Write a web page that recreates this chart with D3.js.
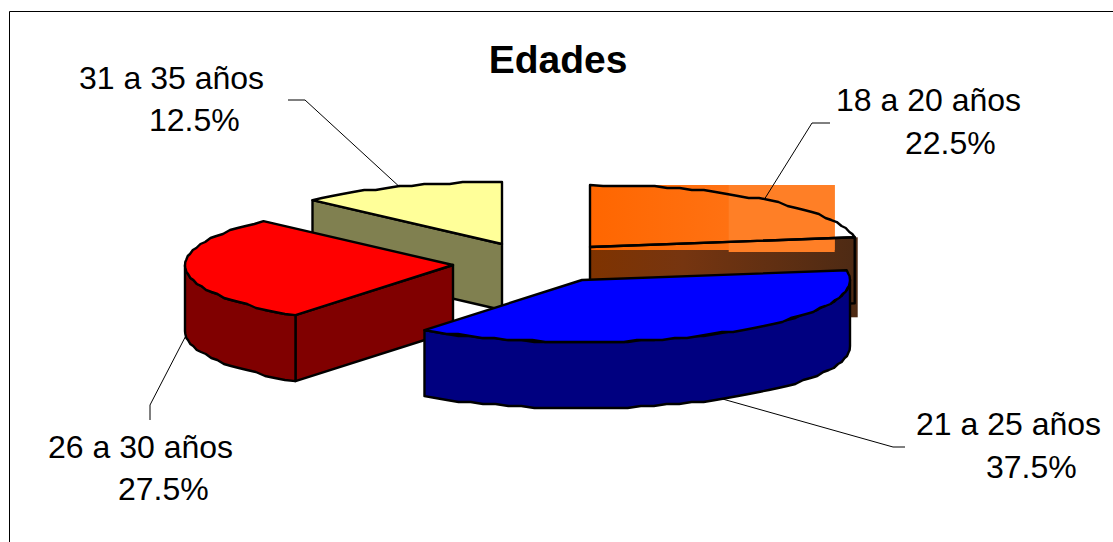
<!DOCTYPE html>
<html><head><meta charset="utf-8">
<script src="https://cdn.jsdelivr.net/npm/d3@7/dist/d3.min.js"></script>
<style>html,body{margin:0;padding:0;background:#fff}svg{display:block}text{font-family:"Liberation Sans",Arial,sans-serif;fill:#000}</style>
</head><body><svg id="c" width="1113" height="542"></svg>
<script>
// ---- data ----
const title = "Edades";
const categories = ["18 a 20 años", "21 a 25 años", "26 a 30 años", "31 a 35 años"];
const shares = [22.5, 37.5, 27.5, 12.5];
// ---- styles ----
const topColors = ["none", "#0000FF", "#FF0000", "#FFFF99"];
const wallColors = ["none", "#000080", "#800000", "#808050"];
// ---- layout ----
const W = 1113, H = 542, rx = 268, ry = 62, depth = 66;
const centers = [[590, 247], [582, 280], [453, 265], [502, 244]];
const drawOrder = [3, 0, 2, 1];
const labelPos = [
  {x1: 836, y1: 111, x2: 905, y2: 154},
  {x1: 916, y1: 435, x2: 986, y2: 478},
  {x1: 48, y1: 458, x2: 118, y2: 500},
  {x1: 79, y1: 89, x2: 149, y2: 131}
];
const leaders = [
  {d: 0, bends: [[812, 123], [830, 123]]},
  {d: depth, bends: [[893, 447], [905, 447]]},
  {d: depth, bends: [[150, 405], [150, 420]]},
  {d: 0, bends: [[305, 100], [288, 100]]}
];

const svg = d3.select("#c");
const defs = svg.append("defs");
function grad(id, stops) {
  const g = defs.append("linearGradient").attr("id", id);
  stops.forEach(s => g.append("stop").attr("offset", s[0]).attr("stop-color", s[1]));
}
grad("orangeGrad", [[0, "#FF6600"], [1, "#FF7A20"]]);
grad("brownGrad", [[0, "#7F3300"], [0.35, "#763510"], [1, "#4D2A14"]]);

const slices = d3.pie().sort(null).value(d => d).startAngle(0).endAngle(2 * Math.PI)(shares);
const line = d3.line();
const snap = y => Math.round(y / 2) * 2;
function pt(i, a, dz) {
  const c = centers[i];
  return [c[0] + rx * Math.sin(a), c[1] - ry * Math.cos(a) + (dz || 0)];
}
function arcPts(i, a0, a1, dz) {
  const n = Math.max(2, Math.ceil(Math.abs(a1 - a0) / 0.05));
  return d3.range(n + 1).map(k => {
    const p = pt(i, a0 + (a1 - a0) * k / n, dz);
    return (k === 0 || k === n) ? p : [p[0], snap(p[1])];
  });
}
svg.append("path").attr("d", line([[9.5, H], [9.5, 11.5], [W, 11.5]]))
  .attr("fill", "none").attr("stroke", "#000").attr("stroke-width", 1);

const g = svg.append("g").attr("stroke", "#000").attr("stroke-width", 2.4).attr("stroke-linejoin", "round");

// Orange slice gradient blocks, sized from the slice extent
function orangeBlocks() {
  const c = centers[0], e = pt(0, slices[0].endAngle);
  const backY = c[1] - ry, rightX = e[0];
  g.append("rect").attr("x", c[0] - 1).attr("y", e[1]).attr("width", rightX + 4 - c[0]).attr("height", depth + 14)
    .attr("fill", "url(#brownGrad)").attr("stroke", "none");
  g.append("rect").attr("x", c[0] - 1).attr("y", backY).attr("width", rightX - 19 - c[0]).attr("height", ry + 3)
    .attr("fill", "url(#orangeGrad)").attr("stroke", "none");
  g.append("rect").attr("x", rightX - 126).attr("y", backY).attr("width", 106).attr("height", ry + 5)
    .attr("fill", "#FF7F26").attr("stroke", "none");
}

drawOrder.forEach(i => {
  const s = slices[i], a0 = s.startAngle, a1 = s.endAngle, c = centers[i];
  if (i === 0) orangeBlocks();
  const wf = wallColors[i];
  // radial walls facing the viewer
  if (a0 > Math.PI) {
    g.append("path").attr("d", line([c, pt(i, a0), pt(i, a0, depth), [c[0], c[1] + depth]]) + "Z").attr("fill", wf);
  }
  if (a1 < Math.PI) {
    g.append("path").attr("d", line([c, pt(i, a1), pt(i, a1, depth), [c[0], c[1] + depth]]) + "Z").attr("fill", wf);
  }
  // outer wall
  const o0 = Math.max(a0, Math.PI / 2), o1 = Math.min(a1, 3 * Math.PI / 2);
  if (o1 > o0) {
    const pts = arcPts(i, o0, o1).concat(arcPts(i, o1, o0, depth));
    g.append("path").attr("d", line(pts) + "Z").attr("fill", wf);
  }
  // top
  g.append("path").attr("d", line([c].concat(arcPts(i, a0, a1))) + "Z").attr("fill", topColors[i]);
});

// leaders start at each slice's mid-angle
const lg = svg.append("g");
slices.forEach((s, i) => {
  const l = leaders[i];
  const start = pt(i, (s.startAngle + s.endAngle) / 2, l.d);
  lg.append("path").attr("d", line([start].concat(l.bends)))
    .attr("fill", "none").attr("stroke", "#000").attr("stroke-width", 1);
});

// labels
const fmt = v => v.toFixed(1) + "%";
categories.forEach((c, i) => {
  const p = labelPos[i];
  svg.append("text").attr("x", p.x1).attr("y", p.y1).attr("font-size", 32).text(c);
  svg.append("text").attr("x", p.x2).attr("y", p.y2).attr("font-size", 32).text(fmt(shares[i]));
});
svg.append("text").attr("x", 558).attr("y", 73).attr("text-anchor", "middle")
  .attr("font-size", 39).attr("font-weight", "bold").text(title);
</script></body></html>
